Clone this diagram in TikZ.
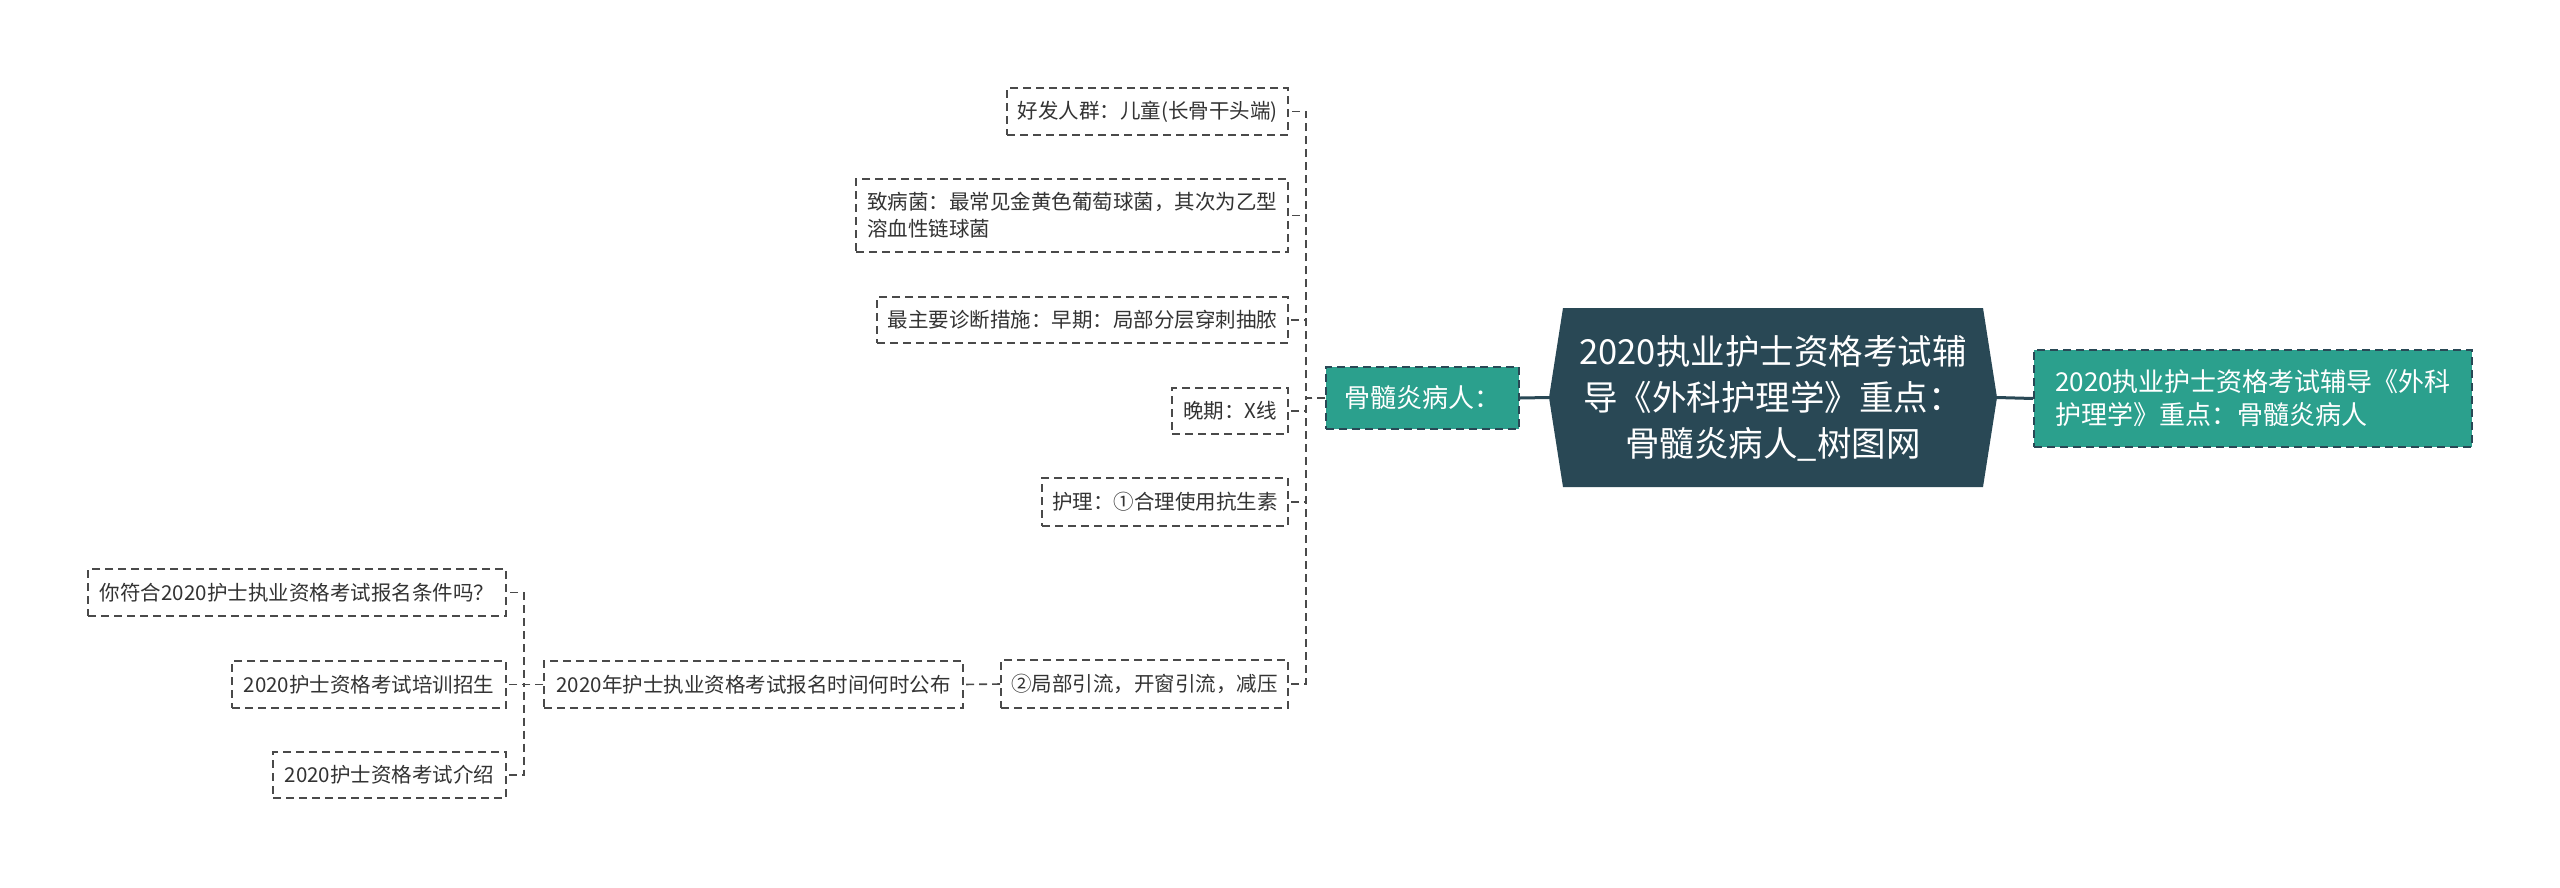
\documentclass[tikz,border=0pt]{standalone}
\usepackage{fontspec}
\setmainfont{Noto Sans CJK SC}
\definecolor{darkc}{HTML}{294855}
\definecolor{tealc}{HTML}{2BA08D}
\definecolor{linegray}{HTML}{4A4A4A}
\definecolor{textgray}{HTML}{333333}
\begin{document}
\begin{tikzpicture}[x=1pt,y=-1pt,
  leaf/.style={draw=linegray, line width=1.6pt, dash pattern=on 8pt off 5pt, inner sep=0pt, text=textgray, font=\fontsize{20.5}{27}\selectfont, anchor=center},
  conn/.style={draw=linegray, line width=1.6pt, dash pattern=on 8pt off 5pt},
  tealbox/.style={fill=tealc, draw=darkc, line width=1.6pt, dash pattern=on 8pt off 5pt, inner sep=0pt, text=white, font=\fontsize{26}{33}\selectfont, anchor=center},
  mainline/.style={draw=darkc, line width=3pt}
]
\useasboundingbox (0,0) rectangle (2560,887);
\fill[white] (0,0) rectangle (2560,887);

% central node
\coordinate (rootL) at (1549,397.5);
\coordinate (rootR) at (1997,397.5);
\fill[darkc] (1563,308) -- (1983,308) -- (rootR) -- (1983,487) -- (1563,487) -- (rootL) -- cycle;
\node[text=white, font=\fontsize{34.5}{46}\selectfont, align=center] (root) at (1773,398) {2020执业护士资格考试辅\\导《外科护理学》重点：\\骨髓炎病人\_树图网};

% right node
\node[tealbox, minimum width=438pt, minimum height=97pt, align=left] (rt) at (2253,398.5) {2020执业护士资格考试辅导《外科\\护理学》重点：骨髓炎病人};

% middle node
\node[tealbox, minimum width=193pt, minimum height=62pt] (mid) at (1422.5,398) {骨髓炎病人：};

% leaves
\node[leaf, minimum width=281pt, minimum height=47pt] (n1) at (1147.5,111.5) {好发人群：儿童(长骨干头端)};
\node[leaf, minimum width=432pt, minimum height=73pt, align=left] (n2) at (1072,215.5) {致病菌：最常见金黄色葡萄球菌，其次为乙型\\溶血性链球菌};
\node[leaf, minimum width=411pt, minimum height=46pt] (n3) at (1082.5,320) {最主要诊断措施：早期：局部分层穿刺抽脓};
\node[leaf, minimum width=116pt, minimum height=46pt] (n4) at (1230,411) {晚期：X线};
\node[leaf, minimum width=246pt, minimum height=48pt] (n5) at (1165,502) {护理：①合理使用抗生素};
\node[leaf, minimum width=287pt, minimum height=48pt] (n6) at (1144.5,684) {②局部引流，开窗引流，减压};
\node[leaf, minimum width=419pt, minimum height=47pt] (n7) at (753.5,684.5) {2020年护士执业资格考试报名时间何时公布};
\node[leaf, minimum width=418pt, minimum height=47pt] (n8) at (297,592.5) {你符合2020护士执业资格考试报名条件吗？};
\node[leaf, minimum width=274pt, minimum height=47pt] (n9) at (369,684.5) {2020护士资格考试培训招生};
\node[leaf, minimum width=233pt, minimum height=46pt] (n10) at (389.5,775) {2020护士资格考试介绍};

% connectors
\draw[mainline] (mid.east) -- (rootL);
\draw[mainline] (rootR) -- (rt.west);
\foreach \n in {n1,n2,n3,n4,n5,n6}{
  \draw[conn] (mid.west) -- ++(-19,0) |- (\n.east);
}
\draw[conn] (n6.west) -- (n7.east);
\foreach \n in {n8,n9,n10}{
  \draw[conn] (n7.west) -- ++(-19,0) |- (\n.east);
}
\end{tikzpicture}
\end{document}
